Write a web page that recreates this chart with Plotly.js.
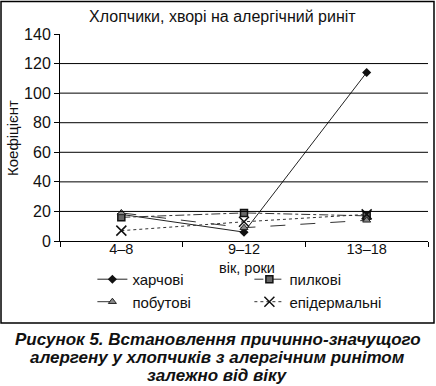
<!DOCTYPE html>
<html><head><meta charset="utf-8">
<script src="https://cdn.plot.ly/plotly-3.0.1.min.js"></script>
<style>body{margin:0;background:#fff}#c{width:436px;height:386px}</style>
</head><body><div id="c"></div>
<script>
const categories = ['4–8', '9–12', '13–18'];
const kharchovi = [18, 6, 114];
const pylkovi = [16, 19, 17];
const pobutovi = [19, 9, 14];
const epidermalni = [7, 13, 18];
const names = ['харчові', 'пилкові', 'побутові', 'епідермальні'];
const yTicks = [0, 20, 40, 60, 80, 100, 120, 140];
const gridVals = [20, 40, 60, 80, 100, 120];
const captionLines = ['Рисунок 5. Встановлення причинно-значущого', 'алергену у хлопчиків з алергічним ринітом', 'залежно від віку'];
const xTitle = 'вік, роки';
const yTitle = 'Коефіцієнт';

const F = 'Liberation Sans, Arial, sans-serif';
const traces = [
  {x: categories, y: kharchovi, name: names[0], mode: 'lines+markers',
   line: {color: '#222', width: 1, dash: 'solid'},
   marker: {symbol: 'diamond', size: 7, color: '#111'}},
  {x: categories, y: pylkovi, name: names[1], mode: 'lines+markers',
   line: {color: '#333', width: 1, dash: 'dashdot'},
   marker: {symbol: 'square', size: 7, color: '#666', line: {color: '#111', width: 1.5}}},
  {x: categories, y: pobutovi, name: names[2], mode: 'lines+markers',
   line: {color: '#333', width: 1, dash: 'longdash'},
   marker: {symbol: 'triangle-up', size: 7, color: '#888', line: {color: '#222', width: 1}}},
  {x: categories, y: epidermalni, name: names[3], mode: 'lines+markers',
   line: {color: '#333', width: 1, dash: '3px,3px'},
   marker: {symbol: 'x-thin', size: 10, color: '#111', line: {color: '#111', width: 1.5}}}
];

const shapes = gridVals.map(v => ({type: 'line', xref: 'paper', yref: 'y', x0: 0, x1: 1, y0: v, y1: v,
  line: {color: '#000', width: 1}}));
shapes.push({type: 'rect', xref: 'paper', yref: 'paper', x0: -0.1603, x1: 1.0163, y0: -0.396, y1: 1.157,
  line: {color: '#000', width: 1.5}});

const capY = [-0.475, -0.562, -0.649];
const annotations = captionLines.map((t, i) => ({xref: 'paper', yref: 'paper', x: 0.429, y: capY[i],
  xanchor: 'center', yanchor: 'middle', showarrow: false,
  text: '<b><i>' + t + '</i></b>', font: {family: F, size: 17, color: '#111'}}));
annotations.push({xref: 'paper', yref: 'paper', x: 0.508, y: -0.13, xanchor: 'center', yanchor: 'middle',
  showarrow: false, text: xTitle, font: {family: F, size: 14.5, color: '#111'}});
annotations.push({xref: 'paper', yref: 'paper', x: -0.1277, y: 0.4976, xanchor: 'center', yanchor: 'middle',
  showarrow: false, textangle: -90, text: yTitle, font: {family: F, size: 15, color: '#111'}});

const layout = {
  width: 436, height: 386,
  margin: {l: 60, r: 8, t: 34, b: 145},
  paper_bgcolor: '#fff', plot_bgcolor: '#fff',
  font: {family: F, size: 14, color: '#111'},
  title: {text: 'Хлопчики, хворі на алергічний риніт', font: {family: F, size: 16, color: '#111'},
    x: 0.51, xanchor: 'center', y: 0.957, yanchor: 'middle'},
  showlegend: true,
  legend: {orientation: 'h', x: 0.088, xanchor: 'left', y: -0.106, yanchor: 'top',
    entrywidth: 112, entrywidthmode: 'pixels', tracegroupgap: 0,
    font: {family: F, size: 15, color: '#111'}},
  xaxis: {type: 'category', range: [-0.5, 2.5], showline: true, linecolor: '#000', linewidth: 1,
    ticks: 'outside', ticklen: 5, tickcolor: '#000', tickson: 'boundaries', showgrid: false,
    ticklabelstandoff: -5,
    tickfont: {family: F, size: 14.5, color: '#111'}},
  yaxis: {range: [0, 140], tickvals: yTicks, showline: true, linecolor: '#000', linewidth: 1,
    ticks: 'outside', ticklen: 5, tickcolor: '#000', showgrid: false, zeroline: false,
    tickfont: {family: F, size: 16, color: '#111'}},
  shapes: shapes,
  annotations: annotations
};
Plotly.newPlot('c', traces, layout, {displayModeBar: false});
</script></body></html>
